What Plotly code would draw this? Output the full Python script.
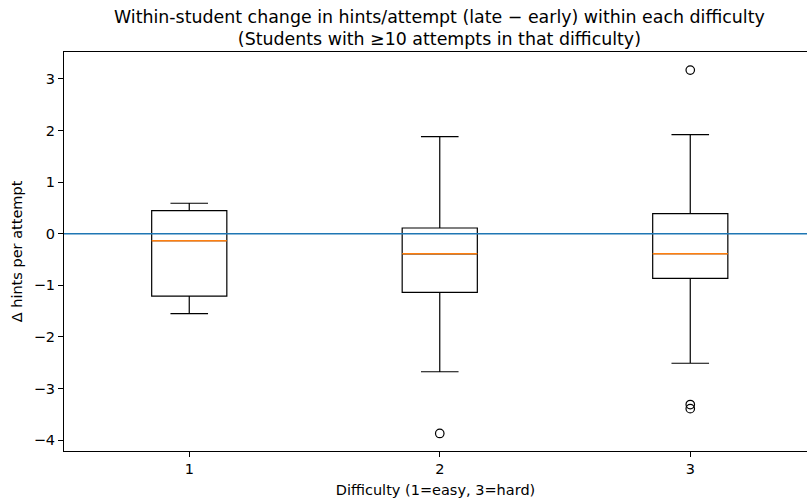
import plotly.graph_objects as go

# Per-difficulty summary of within-student change in hints per attempt
difficulty = [1, 2, 3]
lower_whisker = [-1.55, -2.675, -2.51]
q1 = [-1.21, -1.135, -0.864]
median = [-0.135, -0.39, -0.387]
q3 = [0.445, 0.11, 0.387]
upper_whisker = [0.59, 1.88, 1.92]

# Points beyond the whiskers
outlier_x = [2, 3, 3, 3]
outlier_y = [-3.87, 3.17, -3.31, -3.39]

tick_vals_y = [3, 2, 1, 0, -1, -2, -3, -4]
tick_text_y = ["3", "2", "1", "0", "\u22121", "\u22122", "\u22123", "\u22124"]

BOX_W = 0.3
FONT = "DejaVu Sans"
LABEL_SIZE = 14.5
TITLE_SIZE = 17.4

fig = go.Figure()

fig.add_trace(go.Box(
    x=difficulty,
    q1=q1, median=median, q3=q3,
    lowerfence=lower_whisker, upperfence=upper_whisker,
    width=BOX_W, whiskerwidth=0.5,
    boxpoints=False,
    line=dict(color="black", width=1.2),
    fillcolor="rgba(0,0,0,0)",
    showlegend=False,
))

# Orange median segments drawn over each box
med_x, med_y = [], []
for d, m in zip(difficulty, median):
    med_x += [d - BOX_W / 2, d + BOX_W / 2, None]
    med_y += [m, m, None]
fig.add_trace(go.Scatter(
    x=med_x, y=med_y, mode="lines",
    line=dict(color="#ff7f0e", width=1.5),
    showlegend=False, hoverinfo="skip",
))

fig.add_trace(go.Scatter(
    x=outlier_x, y=outlier_y, mode="markers",
    marker=dict(symbol="circle-open", size=8.5, color="black", line=dict(width=1.2)),
    showlegend=False,
))

# Zero reference line across the full axes
fig.add_shape(type="line", xref="paper", x0=0, x1=1, yref="y", y0=0, y1=0,
              line=dict(color="#1f77b4", width=1.4), layer="above")

fig.update_layout(
    width=807, height=502,
    margin=dict(l=64, r=0, t=52, b=51),
    paper_bgcolor="white", plot_bgcolor="white",
    font=dict(family=FONT, size=LABEL_SIZE, color="black"),
    title=dict(
        text="Within-student change in hints/attempt (late \u2212 early) within each difficulty<br>"
             "(Students with \u226510 attempts in that difficulty)",
        x=0.5445, xanchor="center", y=0.955, yanchor="middle",
        font=dict(family=FONT, size=TITLE_SIZE, color="black"),
    ),
    xaxis=dict(
        range=[0.5, 3.466],
        tickvals=difficulty, ticktext=[str(d) for d in difficulty],
        showgrid=False, zeroline=False,
        showline=True, linecolor="black", linewidth=1, mirror=True,
        ticks="outside", ticklen=5, tickcolor="black",
        title=dict(text="Difficulty (1=easy, 3=hard)", standoff=8,
                   font=dict(family=FONT, size=LABEL_SIZE)),
        tickfont=dict(family=FONT, size=LABEL_SIZE),
    ),
    yaxis=dict(
        range=[-4.21, 3.52],
        tickvals=tick_vals_y, ticktext=tick_text_y,
        showgrid=False, zeroline=False,
        showline=True, linecolor="black", linewidth=1,
        ticks="outside", ticklen=5, tickcolor="black",
        title=dict(text="\u0394 hints per attempt", standoff=7,
                   font=dict(family=FONT, size=LABEL_SIZE)),
        tickfont=dict(family=FONT, size=LABEL_SIZE),
    ),
)

fig.write_html("out.html")
